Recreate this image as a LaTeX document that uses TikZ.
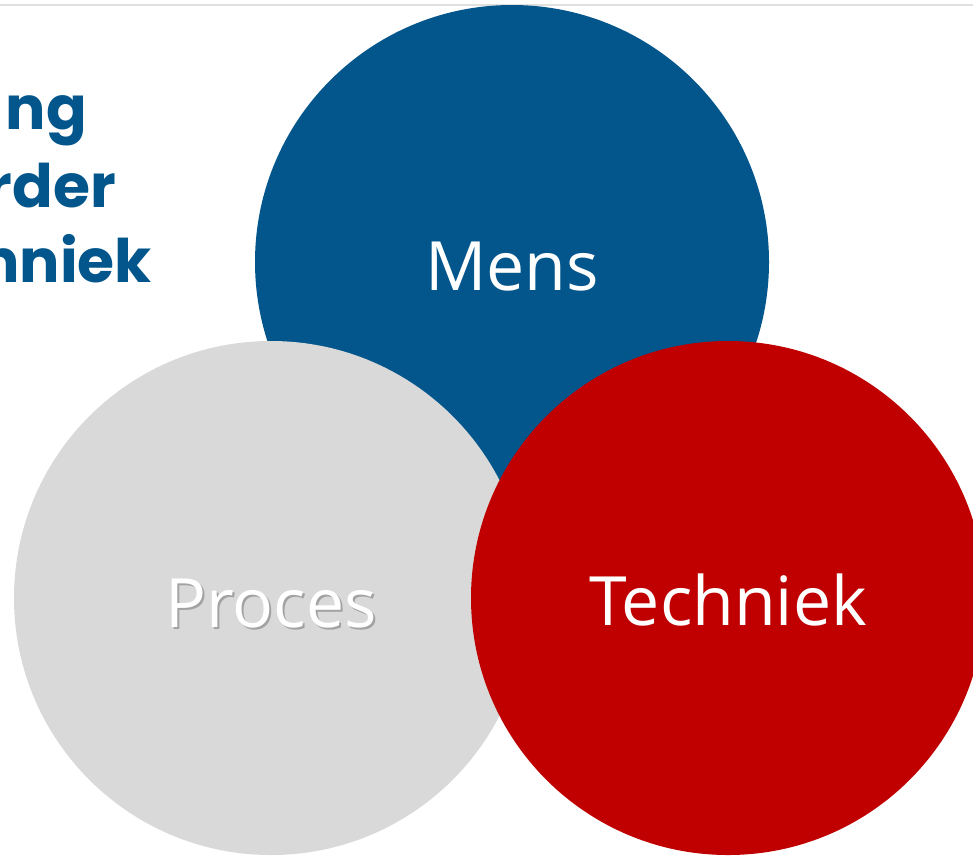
\documentclass[tikz,border=0pt]{standalone}
\usepackage{fontspec}
\setmainfont{Open Sans}
\newfontfamily\headfont{Poppins}[UprightFont=* Bold]
\definecolor{mblue}{HTML}{02568C}
\definecolor{mred}{HTML}{C00000}
\definecolor{mgray}{HTML}{D9D9D9}
\begin{document}
\begin{tikzpicture}[x=1pt,y=-1pt,
  circ/.style={circle,minimum size=514pt,inner sep=0pt},
  lbl/.style={text=white,font=\fontsize{68}{80}\selectfont,anchor=base},
  head/.style={text=mblue,font=\headfont\fontsize{60}{70}\selectfont,anchor=base east,inner sep=0pt}]
\useasboundingbox (0,0) rectangle (973,855);
\begin{scope}
\clip (0,0) rectangle (973,855);
\fill[fill=white] (0,0) rectangle (973,855);
\coordinate (tl) at (0,5);
\coordinate (tr) at (973,5);
\draw[line width=1.5pt,draw=black!12] (tl) -- (tr);
\node[circ,fill=mblue] (mens) at (512,262) {};
\node[circ,fill=mgray] (proces) at (271,598) {};
\node[circ,fill=mred] (techniek) at (728,598) {};
\node[lbl] (tmens) at (512,290) {Mens};
\node[lbl,text=black!45,opacity=0.7] (tprocsh) at (273,629) {Proces};
\node[lbl] (tproc) at (271,627) {Proces};
\node[lbl] (ttech) at (728,625) {Techniek};
\node[head] (h1) at (87,129) {ng};
\node[head] (h2) at (116,207) {rder};
\node[head] (h3) at (152,282) {hniek};
\end{scope}
\end{tikzpicture}
\end{document}
